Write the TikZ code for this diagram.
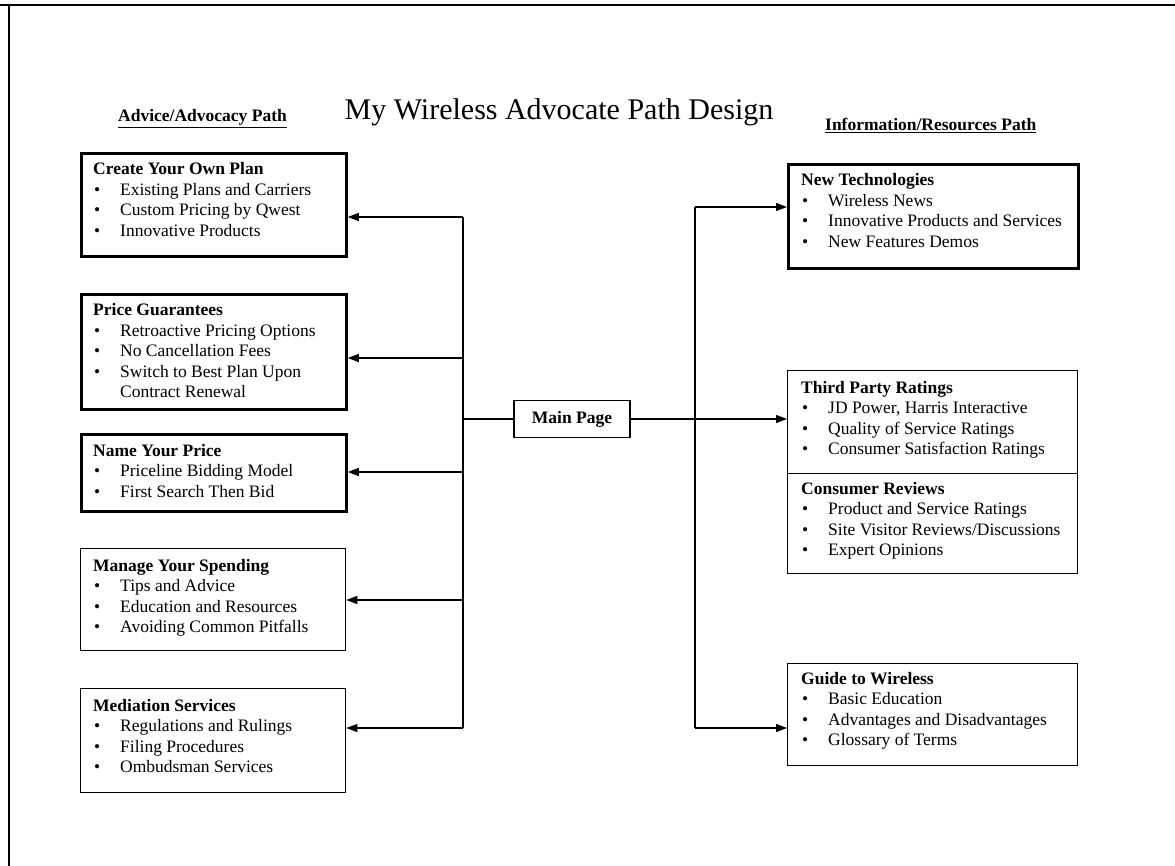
\documentclass[tikz,border=0pt]{standalone}
\usepackage{fontspec}
\setmainfont{Liberation Serif}
\usetikzlibrary{arrows.meta}
\newcommand\itm[1]{\makebox[27pt][l]{\hspace{1pt}\textbullet}#1}
\newcommand\hd[1]{\textbf{#1}}
\tikzset{
  thickbox/.style={draw, line width=2.8pt, inner sep=0pt, anchor=north west},
  thinbox/.style={draw, line width=1.3pt, inner sep=0pt, anchor=north west},
  boxtxt/.style={anchor=base west, inner sep=0pt, font=\fontsize{17.5}{20.5}\selectfont},
  conn/.style={line width=1.2pt},
  arr/.style={conn, -{Triangle[length=11pt,width=8pt]}},
  frame/.style={line width=1.6pt},
}
\begin{document}
\begin{tikzpicture}[x=1pt,y=-1pt]
\useasboundingbox (0,0) rectangle (1175,866);
% outer frame (top and left only)
\draw[frame] (0,5) -- (1175,5);
\draw[frame] (9,5) -- (9,866);
% headings
\node[anchor=base, inner sep=0pt, font=\fontsize{30}{36}\selectfont] (title) at (559,120) {My Wireless Advocate Path Design};
\node[anchor=base west, inner sep=0pt, font=\fontsize{17.5}{20}\selectfont\bfseries] (advh) at (118,122) {\underline{Advice/Advocacy Path}};
\node[anchor=base west, inner sep=0pt, font=\fontsize{17.5}{20}\selectfont\bfseries] (infh) at (825,131) {\underline{Information/Resources Path}};
% left boxes
\node[thickbox, minimum width=265pt, minimum height=103pt] (b1) at (80,152) {};
\node[thickbox, minimum width=265pt, minimum height=115pt] (b2) at (80,293) {};
\node[thickbox, minimum width=265pt, minimum height=77pt] (b3) at (80,433) {};
\node[thinbox, minimum width=265pt, minimum height=102pt] (b4) at (80,548) {};
\node[thinbox, minimum width=265pt, minimum height=104pt] (b5) at (80,688) {};
\node[boxtxt] (t1) at ([xshift=13pt,yshift=-23pt]b1.north west) {\begin{tabular}[t]{@{}l@{}}\hd{Create Your Own Plan}\\ \itm{Existing Plans and Carriers}\\ \itm{Custom Pricing by Qwest}\\ \itm{Innovative Products}\end{tabular}};
\node[boxtxt] (t2) at ([xshift=13pt,yshift=-23pt]b2.north west) {\begin{tabular}[t]{@{}l@{}}\hd{Price Guarantees}\\ \itm{Retroactive Pricing Options}\\ \itm{No Cancellation Fees}\\ \itm{Switch to Best Plan Upon}\\ \hspace*{27pt}Contract Renewal\end{tabular}};
\node[boxtxt] (t3) at ([xshift=13pt,yshift=-23pt]b3.north west) {\begin{tabular}[t]{@{}l@{}}\hd{Name Your Price}\\ \itm{Priceline Bidding Model}\\ \itm{First Search Then Bid}\end{tabular}};
\node[boxtxt] (t4) at ([xshift=13pt,yshift=-23pt]b4.north west) {\begin{tabular}[t]{@{}l@{}}\hd{Manage Your Spending}\\ \itm{Tips and Advice}\\ \itm{Education and Resources}\\ \itm{Avoiding Common Pitfalls}\end{tabular}};
\node[boxtxt] (t5) at ([xshift=13pt,yshift=-23pt]b5.north west) {\begin{tabular}[t]{@{}l@{}}\hd{Mediation Services}\\ \itm{Regulations and Rulings}\\ \itm{Filing Procedures}\\ \itm{Ombudsman Services}\end{tabular}};
% right boxes
\node[thickbox, minimum width=290pt, minimum height=104pt] (r1) at (787,163) {};
\node[thinbox, minimum width=290pt, minimum height=103pt] (r2) at (787,370) {};
\node[thinbox, minimum width=290pt, minimum height=100pt] (r3) at (787,473) {};
\node[thinbox, minimum width=290pt, minimum height=102pt] (r4) at (787,663) {};
\node[boxtxt] (s1) at ([xshift=14pt,yshift=-23pt]r1.north west) {\begin{tabular}[t]{@{}l@{}}\hd{New Technologies}\\ \itm{Wireless News}\\ \itm{Innovative Products and Services}\\ \itm{New Features Demos}\end{tabular}};
\node[boxtxt] (s2) at ([xshift=14pt,yshift=-23pt]r2.north west) {\begin{tabular}[t]{@{}l@{}}\hd{Third Party Ratings}\\ \itm{JD Power, Harris Interactive}\\ \itm{Quality of Service Ratings}\\ \itm{Consumer Satisfaction Ratings}\end{tabular}};
\node[boxtxt] (s3) at ([xshift=14pt,yshift=-21pt]r3.north west) {\begin{tabular}[t]{@{}l@{}}\hd{Consumer Reviews}\\ \itm{Product and Service Ratings}\\ \itm{Site Visitor Reviews/Discussions}\\ \itm{Expert Opinions}\end{tabular}};
\node[boxtxt] (s4) at ([xshift=14pt,yshift=-21pt]r4.north west) {\begin{tabular}[t]{@{}l@{}}\hd{Guide to Wireless}\\ \itm{Basic Education}\\ \itm{Advantages and Disadvantages}\\ \itm{Glossary of Terms}\end{tabular}};
% main page
\node[draw, line width=1.3pt, minimum width=116pt, minimum height=37pt, inner sep=0pt, font=\fontsize{17.5}{20}\selectfont\bfseries] (main) at (572,419) {Main Page};
% junction coordinates
\coordinate (l1) at (463,217);
\coordinate (l2) at (463,358);
\coordinate (l3) at (463,472);
\coordinate (l4) at (463,600);
\coordinate (l5) at (463,728);
\coordinate (q1) at (695,207);
\coordinate (q3) at (695,728);
% connectors
\draw[conn] (l1) -- (l5);
\draw[conn] (q1) -- (q3);
\draw[conn] (main.west) -- (main.west -| l1);
\draw[arr] (main.east) -- (main.east -| r2.west);
\draw[arr] (l1) -- (l1 -| b1.east);
\draw[arr] (l2) -- (l2 -| b2.east);
\draw[arr] (l3) -- (l3 -| b3.east);
\draw[arr] (l4) -- (l4 -| b4.east);
\draw[arr] (l5) -- (l5 -| b5.east);
\draw[arr] (q1) -- (q1 -| r1.west);
\draw[arr] (q3) -- (q3 -| r4.west);
\end{tikzpicture}
\end{document}
